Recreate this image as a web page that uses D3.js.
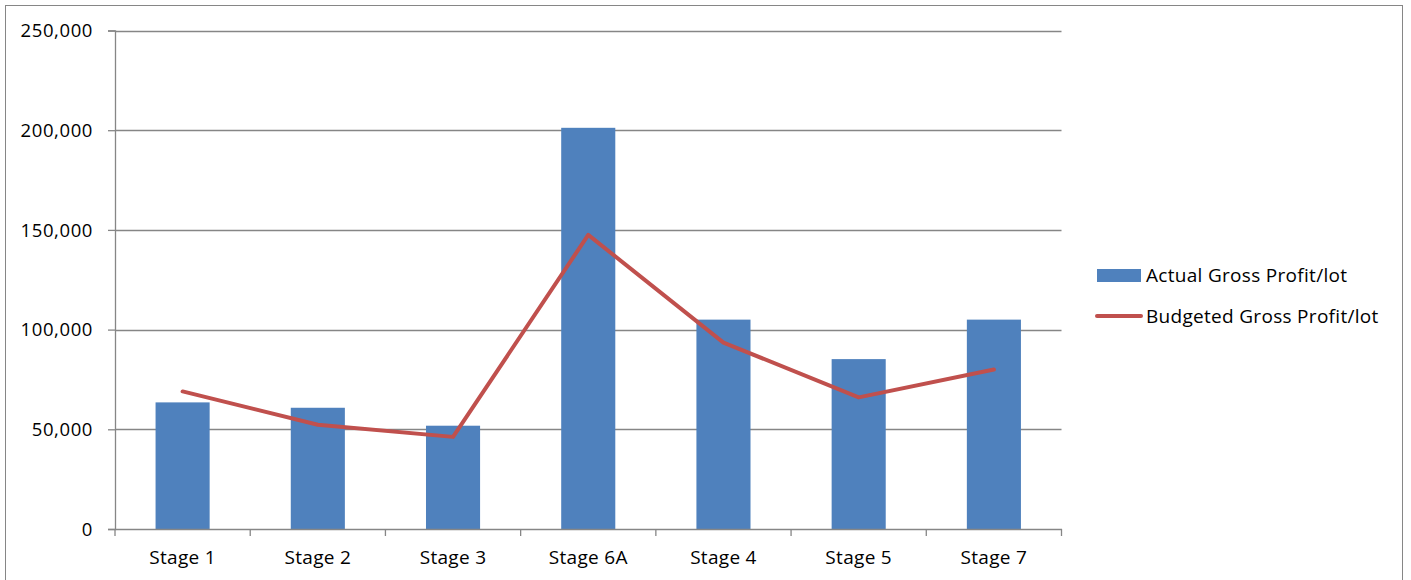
<!DOCTYPE html>
<html>
<head>
<meta charset="utf-8">
<script src="https://cdn.jsdelivr.net/npm/d3@7"></script>
<style>
  html, body { margin: 0; padding: 0; background: #fff; }
  svg { display: block; }
  text { font-family: "Open Sans", "Liberation Sans", sans-serif; fill: #000; }
</style>
</head>
<body>
<svg id="chart" width="1411" height="580"></svg>
<script>
const categories = ["Stage 1", "Stage 2", "Stage 3", "Stage 6A", "Stage 4", "Stage 5", "Stage 7"];
const actualValues = [63500, 60800, 51800, 201200, 105000, 85200, 105000];
const budgetedValues = [69000, 52300, 46200, 147500, 93500, 66000, 80000];
const yTicks = [0, 50000, 100000, 150000, 200000, 250000];
const seriesNames = ["Actual Gross Profit/lot", "Budgeted Gross Profit/lot"];

(function () {
const svg = d3.select("#chart");
const pLeft = 115, pRight = 1061.5, pTop = 30.5, pBottom = 529;
const gray = "#868686";
const barColor = "#4F81BD";
const lineColor = "#C0504D";

// outer chart border
svg.append("rect")
  .attr("x", 5.5).attr("y", 5.5)
  .attr("width", 1397).attr("height", 600)
  .attr("fill", "none").attr("stroke", gray).attr("stroke-width", 1);

const x = d3.scaleBand().domain(categories).range([pLeft, pRight]).paddingInner(0.6).paddingOuter(0.3);
const xOuter = d3.scaleBand().domain(categories).range([pLeft, pRight]).padding(0);
const y = d3.scaleLinear().domain([0, 250000]).range([pBottom, pTop]);

// gridlines
svg.append("g")
  .selectAll("line").data(yTicks.filter(d => d > 0)).join("line")
  .attr("x1", pLeft).attr("x2", pRight)
  .attr("y1", d => Math.round(y(d)) + 0.5).attr("y2", d => Math.round(y(d)) + 0.5)
  .attr("stroke", gray).attr("stroke-width", 1.3);

// y axis
const yAxis = d3.axisLeft(y).tickValues(yTicks).tickSize(7).tickPadding(15)
  .tickFormat(d => d3.format(",")(d));
const gy = svg.append("g").attr("transform", `translate(${pLeft},0)`).call(yAxis);
gy.select(".domain").attr("stroke", gray).attr("stroke-width", 1.3);
gy.selectAll(".tick line").attr("stroke", gray).attr("stroke-width", 1.3);
gy.selectAll(".tick text").attr("font-size", 18.5).attr("letter-spacing", "0.6px")
  .attr("font-family", "'Open Sans', sans-serif").attr("dy", "0.34em");

// bars
svg.append("g").selectAll("rect").data(categories).join("rect")
  .attr("x", d => x(d))
  .attr("width", x.bandwidth())
  .attr("y", (d, i) => y(actualValues[i]))
  .attr("height", (d, i) => pBottom - y(actualValues[i]))
  .attr("fill", barColor);

// x axis
const xAxis = d3.axisBottom(xOuter).tickSize(0).tickPadding(22);
const gx = svg.append("g").attr("transform", `translate(0,${pBottom})`).call(xAxis);
gx.select(".domain").attr("stroke", gray).attr("stroke-width", 1.3);
gx.selectAll(".tick text").attr("font-size", 19).attr("letter-spacing", "0.3px")
  .attr("font-family", "'Open Sans', sans-serif");
// category boundary ticks
const boundaries = categories.map(c => xOuter(c)).concat([pRight]);
gx.append("g").selectAll("line").data(boundaries).join("line")
  .attr("x1", d => d).attr("x2", d => d)
  .attr("y1", 0).attr("y2", 7)
  .attr("stroke", gray).attr("stroke-width", 1.3);

// line
const line = d3.line()
  .x((d, i) => x(categories[i]) + x.bandwidth() / 2)
  .y(d => y(d));
svg.append("path").datum(budgetedValues)
  .attr("d", line)
  .attr("fill", "none")
  .attr("stroke", lineColor)
  .attr("stroke-width", 4)
  .attr("stroke-linejoin", "round")
  .attr("stroke-linecap", "round");

// legend
const lg = svg.append("g");
lg.append("rect").attr("x", 1097).attr("y", 269).attr("width", 44).attr("height", 13).attr("fill", barColor);
lg.append("text").attr("x", 1146).attr("y", 282).attr("font-size", 19).attr("letter-spacing", "0.3px").text(seriesNames[0]);
lg.append("line").attr("x1", 1097).attr("x2", 1141).attr("y1", 316).attr("y2", 316)
  .attr("stroke", lineColor).attr("stroke-width", 4).attr("stroke-linecap", "round");
lg.append("text").attr("x", 1146).attr("y", 322.5).attr("font-size", 19).attr("letter-spacing", "0.3px").text(seriesNames[1]);
})();
</script>
</body>
</html>
